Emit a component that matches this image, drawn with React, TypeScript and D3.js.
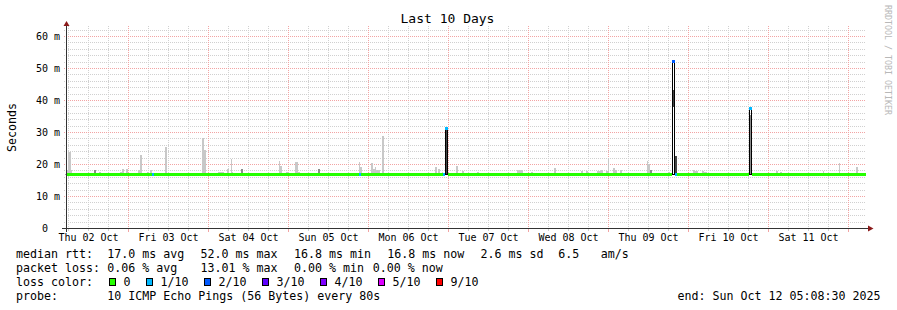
import React from "react";
import * as d3 from "d3";

// ---------- data ----------
const START = "2025-10-02T05:08:30Z";
const END = "2025-10-12T05:08:30Z";
const TITLE = "Last 10 Days";
const Y_LABEL = "Seconds";
const WATERMARK = "RRDTOOL / TOBI OETIKER";
const Y_MAX_MS = 62.5;
const Y_TICKS_MS = [0, 10, 20, 30, 40, 50, 60];
const BASE_MEDIAN_MS = 17.0;

// smoke: [start "DD HH:MM" (Oct), end, low ms, high ms, density level]
const SMOKE: [string, string, number, number, number][] = [
  ["02 05:09", "02 05:51", 16.8, 18.3, 1],
  ["02 05:51", "02 06:45", 16.8, 24.0, 1],
  ["02 06:45", "02 07:03", 16.8, 18.3, 1],
  ["02 11:51", "02 12:09", 16.8, 17.6, 1],
  ["02 13:39", "02 14:15", 16.8, 18.3, 2],
  ["02 15:09", "02 15:45", 16.8, 17.6, 1],
  ["02 21:27", "02 22:03", 16.8, 17.7, 1],
  ["02 22:03", "02 22:39", 16.8, 18.6, 1],
  ["02 23:15", "02 23:51", 16.8, 18.6, 1],
  ["03 02:51", "03 03:27", 16.8, 18.2, 1],
  ["03 03:27", "03 04:03", 16.8, 22.9, 1],
  ["03 05:33", "03 06:09", 16.8, 17.6, 1],
  ["03 06:27", "03 07:03", 16.8, 18.3, 1],
  ["03 10:57", "03 11:33", 16.8, 25.6, 1],
  ["03 22:03", "03 22:39", 16.8, 28.4, 1],
  ["03 22:39", "03 23:15", 16.8, 24.5, 1],
  ["04 02:51", "04 04:39", 16.8, 17.7, 1],
  ["04 05:33", "04 06:09", 16.8, 18.6, 1],
  ["04 06:45", "04 07:03", 16.8, 21.8, 1],
  ["04 07:03", "04 07:21", 16.8, 17.6, 1],
  ["04 09:45", "04 10:21", 16.8, 18.6, 2],
  ["04 21:09", "04 21:27", 16.8, 21.1, 1],
  ["04 21:27", "04 22:03", 16.8, 19.6, 1],
  ["04 23:15", "05 00:09", 16.8, 17.8, 1],
  ["05 01:57", "05 02:51", 16.8, 20.8, 1],
  ["05 02:51", "05 03:27", 16.8, 17.8, 1],
  ["05 08:51", "05 09:27", 16.8, 18.5, 2],
  ["05 21:09", "05 21:27", 16.8, 20.8, 1],
  ["05 21:27", "05 22:03", 16.8, 19.3, 1],
  ["06 00:45", "06 01:21", 16.8, 20.6, 1],
  ["06 01:21", "06 01:57", 16.8, 18.6, 1],
  ["06 01:57", "06 02:15", 16.8, 19.3, 1],
  ["06 02:15", "06 03:27", 16.8, 18.4, 1],
  ["06 04:03", "06 04:39", 16.8, 28.9, 1],
  ["06 06:45", "06 07:03", 16.8, 17.5, 1],
  ["06 19:57", "06 20:33", 16.8, 19.3, 1],
  ["06 20:51", "06 21:27", 16.8, 18.6, 1],
  ["06 22:03", "06 22:21", 16.8, 17.8, 1],
  ["06 23:15", "06 23:33", 16.8, 31.4, 3],
  ["07 02:15", "07 02:51", 16.8, 19.5, 1],
  ["07 04:03", "07 04:39", 16.8, 18.1, 1],
  ["07 08:33", "07 09:09", 16.8, 17.8, 1],
  ["07 20:33", "07 22:21", 16.8, 18.3, 1],
  ["08 00:45", "08 01:21", 16.8, 17.8, 1],
  ["08 07:39", "08 08:15", 16.8, 18.9, 1],
  ["08 15:45", "08 16:21", 16.8, 18.0, 1],
  ["08 17:15", "08 17:51", 16.8, 18.0, 1],
  ["08 20:33", "08 21:45", 16.8, 18.0, 1],
  ["08 21:45", "08 22:21", 16.8, 18.3, 1],
  ["08 23:15", "08 23:51", 16.8, 18.0, 1],
  ["08 23:51", "09 00:09", 16.8, 22.0, 1],
  ["09 01:21", "09 01:57", 16.8, 18.9, 1],
  ["09 01:57", "09 02:33", 16.8, 18.3, 1],
  ["09 03:27", "09 04:03", 16.8, 18.3, 1],
  ["09 11:33", "09 11:51", 16.8, 21.1, 1],
  ["09 11:51", "09 12:27", 16.8, 20.2, 1],
  ["09 12:27", "09 13:03", 16.8, 18.4, 2],
  ["09 17:51", "09 18:27", 16.8, 17.8, 1],
  ["09 19:21", "09 19:39", 38.0, 43.3, 3],
  ["09 19:57", "09 20:33", 16.8, 22.6, 3],
  ["10 01:21", "10 01:57", 16.8, 18.3, 1],
  ["10 01:57", "10 02:51", 16.8, 18.0, 1],
  ["10 04:03", "10 04:39", 16.8, 18.0, 1],
  ["10 04:39", "10 05:33", 16.8, 17.6, 1],
  ["10 18:27", "10 18:45", 16.8, 35.5, 2],
  ["11 02:15", "11 02:51", 16.8, 18.0, 1],
  ["11 03:27", "11 04:03", 16.8, 17.6, 1],
  ["11 16:21", "11 16:39", 16.8, 18.0, 1],
  ["11 21:09", "11 21:27", 16.8, 20.6, 1],
  ["12 00:45", "12 02:15", 16.8, 17.5, 1],
  ["12 02:15", "12 02:51", 16.8, 19.3, 1],
  ["12 03:45", "12 04:39", 16.8, 17.5, 1],
];

// median deviations from the flat median: [start, end, median ms, loss class index]
const MEDIAN_EVENTS: [string, string, number, number][] = [
  ["03 07:03", "03 07:39", 17.0, 1],
  ["05 21:09", "05 21:45", 17.0, 1],
  ["06 22:21", "06 22:57", 17.0, 1],
  ["06 22:57", "06 23:51", 31.4, 1],
  ["09 19:03", "09 19:57", 52.3, 2],
  ["09 19:57", "09 20:33", 17.0, 1],
  ["10 18:09", "10 19:03", 37.6, 1],
];

const RTT_STATS = ["17.0 ms avg", "52.0 ms max", "16.8 ms min", "16.8 ms now", "2.6 ms sd"];
const RTT_AMS = ["6.5", "am/s"];
const LOSS_STATS = ["0.06 % avg", "13.01 % max", "0.00 % min", "0.00 % now"];
const LOSS_LABELS = ["0", "1/10", "2/10", "3/10", "4/10", "5/10", "9/10"];
const LOSS_COLORS = ["#26ff00", "#00b8ff", "#0059ff", "#5e00ff", "#7e00ff", "#dd00ff", "#ff0000"];
const PROBE_TEXT = "10 ICMP Echo Pings (56 Bytes) every 80s";
const END_TEXT = "end: Sun Oct 12 05:08:30 2025";

// ---------- helpers ----------
const parse = d3.utcParse("%Y-%m-%d %H:%M");
const t = (s: string) => parse(`2025-10-${s}`) as Date;
const MONO = "'DejaVu Sans Mono', monospace";

export default function App() {
  const W = 897, H = 310;
  const start = new Date(START), end = new Date(END);
  const x = d3.scaleUtc().domain([start, end]).range([65.64, 865.64]);
  const y = d3.scaleLinear().domain([0, Y_MAX_MS]).range([228.5, 28.5]);
  const crisp = (v: number) => Math.floor(v) + 0.5;
  const cx = (d: Date) => crisp(x(d));
  const rx = (d: Date) => Math.round(x(d));

  const minorX = d3.utcHour.every(6)!.range(start, end);
  const majorX = d3.utcDay.range(start, end);
  const labelX = d3.utcHour.range(start, end).filter((d) => d.getUTCHours() === 12);
  const fmt = d3.utcFormat("%a %d %b");
  const minorY = d3.range(0, Y_MAX_MS, 2);

  const smokeColor = d3.scaleOrdinal<number, string>().domain([1, 2, 3]).range(["#c8c8c8", "#8c8c8c", "#464646"]);

  // build median segments
  const events = MEDIAN_EVENTS.map(([s, e, v, l]) => ({ t0: t(s), t1: t(e), v, l, ev: true }));
  const segs: { t0: Date; t1: Date; v: number; l: number; ev: boolean }[] = [];
  let cur = start;
  for (const ev of events) {
    if (ev.t0 > cur) segs.push({ t0: cur, t1: ev.t0, v: BASE_MEDIAN_MS, l: 0, ev: false });
    segs.push(ev);
    cur = ev.t1;
  }
  if (cur < end) segs.push({ t0: cur, t1: end, v: BASE_MEDIAN_MS, l: 0, ev: false });

  const yb = crisp(y(BASE_MEDIAN_MS));
  const bandHalf = 1.5;

  const gridCol = "#d0d0d0";
  const mgridCol = "#f2a4a4";

  // legend cursor for loss colours
  let cursor = 108.7;
  const lossItems = LOSS_LABELS.map((lab, i) => {
    const bx = Math.round(cursor);
    const tx = cursor + 14.7;
    cursor = tx + lab.length * 7 + 15.3;
    return { lab, color: LOSS_COLORS[i], bx, tx };
  });

  return (
    <svg width={W} height={H} style={{ display: "block", position: "absolute", left: 0, top: 0 }} fontFamily={MONO}>
      <rect x={0} y={0} width={W} height={H} fill="#ffffff" />
      {/* grid */}
      <g strokeDasharray="1,1" shapeRendering="crispEdges">
        {minorY.filter((v) => v % 10 !== 0).map((v) => (
          <line key={"hy" + v} x1={64} x2={866} y1={crisp(y(v))} y2={crisp(y(v))} stroke={gridCol} />
        ))}
        {minorX.filter((d) => d.getUTCHours() !== 0).map((d) => (
          <line key={"vx" + +d} x1={cx(d)} x2={cx(d)} y1={26} y2={228} stroke={gridCol} />
        ))}
        {Y_TICKS_MS.filter((v) => v > 0).map((v) => (
          <line key={"my" + v} x1={64} x2={866} y1={crisp(y(v))} y2={crisp(y(v))} stroke={mgridCol} />
        ))}
        {majorX.map((d) => (
          <line key={"mx" + +d} x1={cx(d)} x2={cx(d)} y1={26} y2={228} stroke={mgridCol} />
        ))}
      </g>
      {/* ticks below axis */}
      <g shapeRendering="crispEdges">
        {minorX.filter((d) => d.getUTCHours() !== 0).map((d) => (
          <line key={"tx" + +d} x1={cx(d)} x2={cx(d)} y1={229} y2={231} stroke={gridCol} />
        ))}
        {majorX.map((d) => (
          <line key={"tmx" + +d} x1={cx(d)} x2={cx(d)} y1={229} y2={232} stroke={mgridCol} />
        ))}
      </g>
      {/* smoke */}
      <g shapeRendering="crispEdges">
        {SMOKE.map(([s, e, lo, hi, lev], i) => (
          <rect key={"s" + i} x={rx(t(s))} width={rx(t(e)) - rx(t(s))} y={y(hi)} height={y(lo) - y(hi)} fill={smokeColor(lev)} />
        ))}
      </g>
      {/* median black line */}
      <g fill="none" stroke="#000" strokeWidth={1}>
        <line x1={x(start)} x2={x(end)} y1={yb} y2={yb} />
        {segs.filter((s) => s.ev && s.v !== BASE_MEDIAN_MS).map((s, i) => {
          const x0 = rx(s.t0) + 0.5, x1 = rx(s.t1) - 0.5, yv = crisp(y(s.v));
          return <path key={"ml" + i} d={`M${x0},${yb}V${yv}H${x1}V${yb}`} />;
        })}
      </g>
      {/* loss coloured median band */}
      <g shapeRendering="crispEdges">
        {segs.map((s, i) => (
          <rect key={"b" + i} x={rx(s.t0)} width={rx(s.t1) - rx(s.t0)} y={y(s.v) - bandHalf} height={bandHalf * 2} fill={LOSS_COLORS[s.l]} />
        ))}
      </g>
      {/* axes */}
      <g shapeRendering="crispEdges" stroke="#333">
        <line x1={62} x2={868} y1={228.5} y2={228.5} />
        <line x1={66.5} x2={66.5} y1={25} y2={232} />
      </g>
      <path d="M66.5,21L63.5,26L69.5,26Z" fill="#8b1a1a" />
      <path d="M873.5,228.5L868,225.5L868,231.5Z" fill="#8b1a1a" />
      {/* y tick labels */}
      <g fontSize={10} fill="#000">
        {Y_TICKS_MS.map((v) => (
          <text key={"yl" + v} x={v === 0 ? 48 : 60} y={crisp(y(v)) + 3.5} textAnchor="end">
            {v === 0 ? "0" : `${v} m`}
          </text>
        ))}
      </g>
      {/* x labels */}
      <g fontSize={10} fill="#000" textAnchor="middle">
        {labelX.map((d) => (
          <text key={"xl" + +d} x={cx(d)} y={241}>{fmt(d)}</text>
        ))}
      </g>
      {/* title & axis label */}
      <text x={447.5} y={23} fontSize={13} textAnchor="middle" fill="#000">{TITLE}</text>
      <text transform="translate(15.5,127.5) rotate(-90)" fontSize={11.63} textAnchor="middle" fill="#000">{Y_LABEL}</text>
      <text transform="translate(884.5,5) rotate(90)" fontSize={8.3} fill="#b8b8b8">{WATERMARK}</text>
      {/* legend */}
      <g fontSize={11.63} fill="#000" style={{ whiteSpace: "pre" }}>
        <text x={16} y={258}>median rtt:</text>
        {RTT_STATS.map((s, i) => (
          <text key={"r" + i} x={107.3 + i * 93.3} y={258}>{s}</text>
        ))}
        <text x={558.3} y={258}>{RTT_AMS[0]}</text>
        <text x={600.7} y={258}>{RTT_AMS[1]}</text>
        <text x={16} y={272}>packet loss:</text>
        {LOSS_STATS.map((s, i) => (
          <text key={"l" + i} x={i < 3 ? 107.3 + i * 93.3 : 372.7} y={272}>{s}</text>
        ))}
        <text x={16} y={286}>loss color:</text>
        {lossItems.map((it) => (
          <g key={"li" + it.lab}>
            <rect x={it.bx + 0.5} y={278.5} width={6} height={7} fill={it.color} stroke="#000" shapeRendering="crispEdges" />
            <text x={it.tx} y={286}>{it.lab}</text>
          </g>
        ))}
        <text x={16} y={300}>probe:</text>
        <text x={107.3} y={300}>{PROBE_TEXT}</text>
        <text x={880.5} y={300} textAnchor="end">{END_TEXT}</text>
      </g>
    </svg>
  );
}
